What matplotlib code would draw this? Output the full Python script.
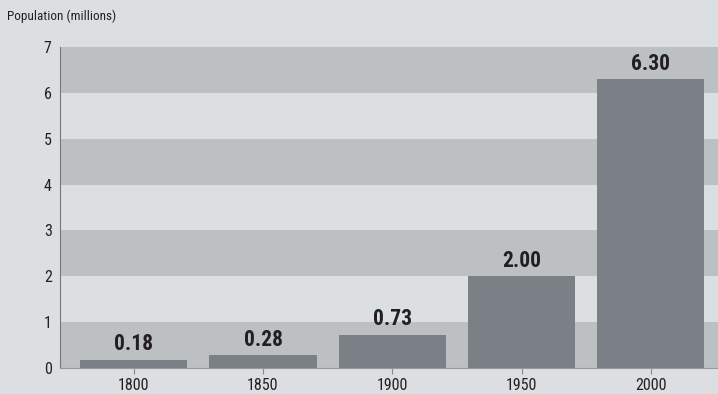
import matplotlib.pyplot as plt

years = ['1800', '1850', '1900', '1950', '2000']
population = [0.18, 0.28, 0.73, 2.00, 6.30]
value_labels = ['0.18', '0.28', '0.73', '2.00', '6.30']

bg = '#dcdfe2'
band = '#bcc0c3'
bar_color = '#7b7f86'
ink = '#231f20'

plt.rcParams['font.family'] = ['Roboto Condensed', 'Roboto', 'DejaVu Sans']

fig = plt.figure(figsize=(7.18, 3.94), dpi=100, facecolor=bg)
ax = fig.add_axes([60 / 718, 26 / 394, 658 / 718, 321 / 394])
ax.set_facecolor(bg)

# alternating horizontal bands
for lo in range(0, 7, 2):
    ax.axhspan(lo, lo + 1, color=band, zorder=0, lw=0)

x = range(len(years))
ax.bar(x, population, width=0.83, color=bar_color, zorder=2)
for xi, v, lab in zip(x, population, value_labels):
    ax.text(xi, v + 0.1, lab, ha='center', va='bottom', fontsize=15.5,
            fontweight='bold', color=ink, zorder=3)

ax.set_xlim(-0.57, 4.52)
ax.set_ylim(0, 7)
ax.set_xticks(list(x))
ax.set_xticklabels(years)
ax.set_yticks(range(8))
ax.tick_params(axis='x', length=4, color='#888888', labelsize=11.5, labelcolor=ink, pad=3)
ax.tick_params(axis='y', length=0, labelsize=11.5, labelcolor=ink, pad=6)

for s in ['top', 'right']:
    ax.spines[s].set_visible(False)
ax.spines['left'].set_color('#777777')
ax.spines['bottom'].set_color('#999999')

fig.text(7 / 718, 1 - 16 / 394, 'Population (millions)', fontsize=9.5, color=ink,
         ha='left', va='center')

fig.savefig('out.png', dpi=100, facecolor=bg)
